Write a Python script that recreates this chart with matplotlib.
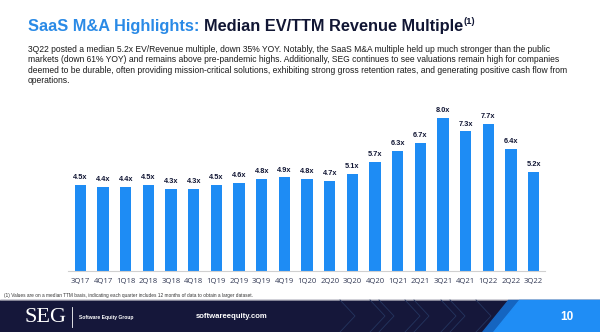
import numpy as np
import matplotlib.pyplot as plt
from matplotlib.patches import Rectangle, Polygon

quarters = ['3Q17', '4Q17', '1Q18', '2Q18', '3Q18', '4Q18', '1Q19', '2Q19', '3Q19', '4Q19',
            '1Q20', '2Q20', '3Q20', '4Q20', '1Q21', '2Q21', '3Q21', '4Q21', '1Q22', '2Q22', '3Q22']
multiples = [4.5, 4.4, 4.4, 4.5, 4.3, 4.3, 4.5, 4.6, 4.8, 4.9,
             4.8, 4.7, 5.1, 5.7, 6.3, 6.7, 8.0, 7.3, 7.7, 6.4, 5.2]

body_lines = [
    "3Q22 posted a median 5.2x EV/Revenue multiple, down 35% YOY. Notably, the SaaS M&A multiple held up much stronger than the public",
    "markets (down 61% YOY) and remains above pre-pandemic highs. Additionally, SEG continues to see valuations remain high for companies",
    "deemed to be durable, often providing mission-critical solutions, exhibiting strong gross retention rates, and generating positive cash flow from",
    "operations.",
]
footnote = "(1) Values are on a median TTM basis, indicating each quarter includes 12 months of data to obtain a larger dataset."

BLUE = '#1e8cf4'
NAVY = '#111634'
FONT = 'Liberation Sans'

W, H = 600, 332
fig = plt.figure(figsize=(W / 100, H / 100), dpi=100)
fig.patch.set_facecolor('white')

# overlay in pixel coordinates for decorations
bg = fig.add_axes([0, 0, 1, 1], zorder=0)
bg.set_xlim(0, W)
bg.set_ylim(H, 0)
bg.axis('off')

# footer band
bg.add_patch(Rectangle((0, 300), W, 32, color='#15173a', zorder=1))
bg.plot([0, W], [300, 300], color='#9a9aa8', lw=0.6, zorder=2)
for x0 in [340, 370, 379, 405, 414, 441, 450, 476]:
    bg.plot([x0, x0 + 15, x0], [300, 316, 332], color='#24355f', lw=0.6, zorder=2)
bg.add_patch(Polygon([[508, 300], [W, 300], [W, 332], [482, 332]], closed=True,
                     color='#1565c0', zorder=3))
bg.add_patch(Polygon([[519, 300], [W, 300], [W, 332], [493, 332]], closed=True,
                     color='#1f8df5', zorder=4))
bg.text(567, 317, '10', color='white', fontsize=8.5, fontweight='bold', family=FONT,
        ha='center', va='center', zorder=5)
bg.text(24, 317, 'SEG', color='white', fontsize=16, family='Liberation Serif',
        ha='left', va='center', zorder=5)
bg.plot([72, 72], [307, 327], color='white', lw=0.6, zorder=5)
bg.text(79, 317, 'Software Equity Group', color='white', fontsize=3.6, fontweight='bold',
        family=FONT, ha='left', va='center', zorder=5)
bg.text(232, 317, 'softwareequity.com', color='white', fontsize=5.6, fontweight='bold',
        family=FONT, ha='center', va='center', zorder=5)

# footnote
bg.text(4, 295, footnote, color='#333333', fontsize=3.4, family=FONT, ha='left', va='center')

# body text
for i, line in enumerate(body_lines):
    bg.text(28, 49 + i * 10.6, line, color='#1a1a1a', fontsize=6.15, family=FONT,
            ha='left', va='center')

# title in two colours
t1 = bg.text(28, 27, 'SaaS M&A Highlights: ', color='#2a8ae6', fontsize=11.8,
             fontweight='bold', family=FONT, ha='left', va='center')
fig.canvas.draw()
r = fig.canvas.get_renderer()
inv = bg.transData.inverted()
bb = t1.get_window_extent(renderer=r)
xd = inv.transform((bb.x1, 0))[0]
t2 = bg.text(xd, 27, 'Median EV/TTM Revenue Multiple', color=NAVY, fontsize=11.8,
             fontweight='bold', family=FONT, ha='left', va='center')
fig.canvas.draw()
bb2 = t2.get_window_extent(renderer=r)
xd2 = inv.transform((bb2.x1, 0))[0]
bg.text(xd2 + 0.5, 21, '(1)', color=NAVY, fontsize=6.8, fontweight='bold', family=FONT,
        ha='left', va='center')

# bar chart
left, right = 68, 545
base, top = 271, 99
ax = fig.add_axes([left / W, (H - base) / H, (right - left) / W, (base - top) / H], zorder=2)
ax.patch.set_alpha(0)
x = np.arange(len(quarters))
ax.bar(x, multiples, width=0.5, color=BLUE)
for xi, v in zip(x, multiples):
    ax.text(xi, v + 0.2, f'{v:.1f}x', ha='center', va='bottom', fontsize=5.3,
            fontweight='bold', color=NAVY, family=FONT)
ax.set_xlim(-0.55, len(quarters) - 0.5)
ax.set_ylim(0, 9)
ax.set_xticks(x)
ax.set_xticklabels(quarters, fontsize=5.5, color='#333a55', family='Open Sans')
ax.tick_params(axis='x', length=0, pad=5)
ax.set_yticks([])
for s in ['top', 'right', 'left']:
    ax.spines[s].set_visible(False)
ax.spines['bottom'].set_color('#d0d0d0')
ax.spines['bottom'].set_linewidth(0.8)

fig.savefig('out.png', dpi=100)
